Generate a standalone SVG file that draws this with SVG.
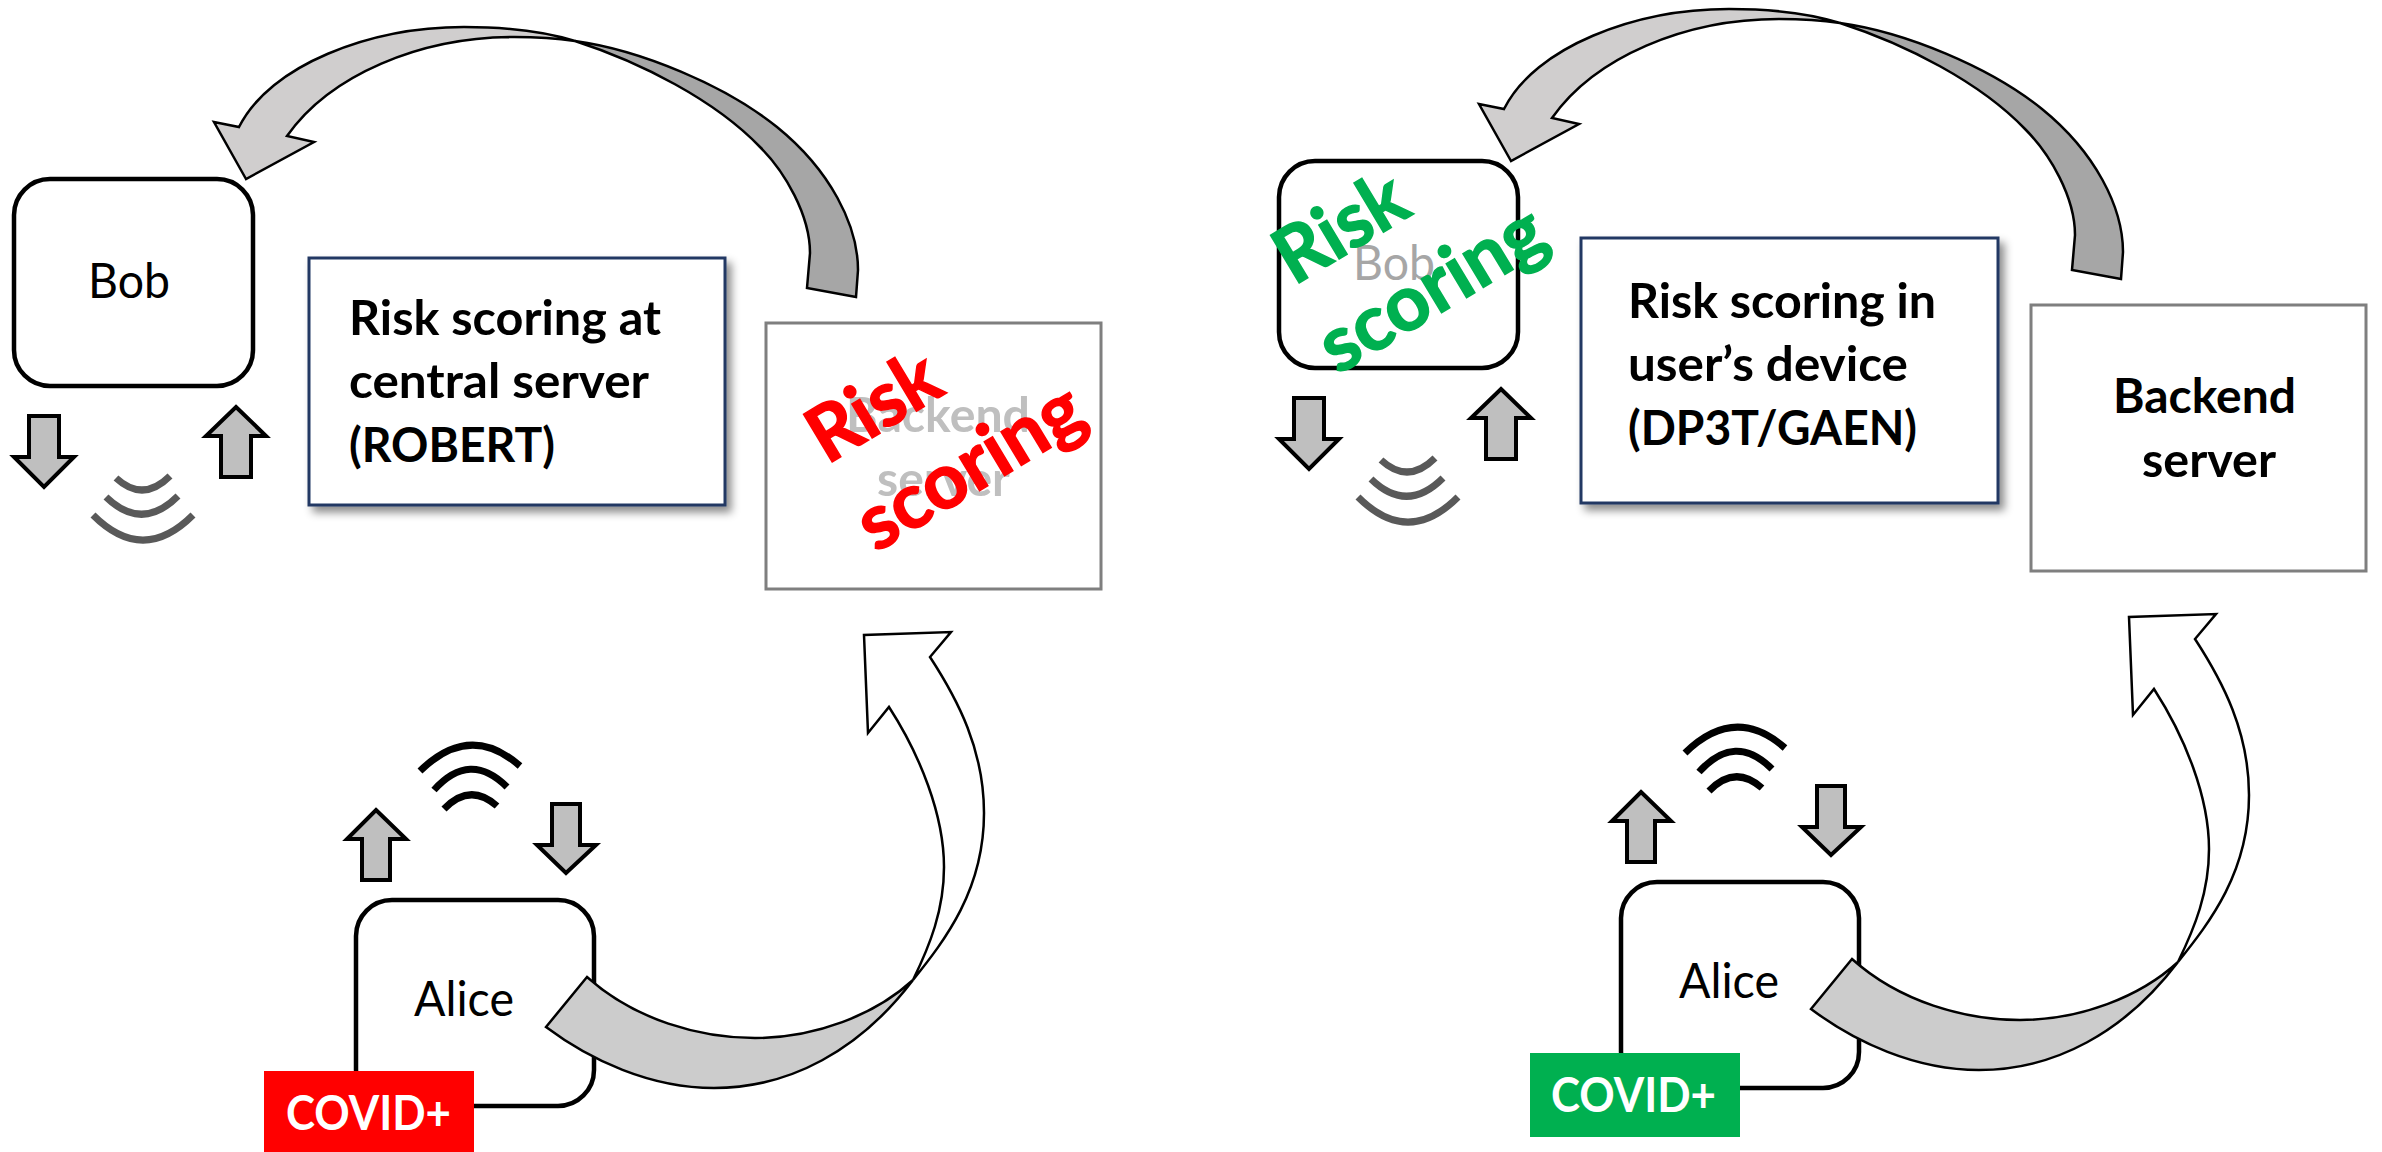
<svg xmlns="http://www.w3.org/2000/svg" width="2382" height="1152" viewBox="0 0 2382 1152">
<defs>
<filter id="sh" x="-5%" y="-5%" width="115%" height="115%"><feDropShadow dx="5" dy="6" stdDeviation="4" flood-color="#000" flood-opacity="0.45"/></filter>
</defs>
<style>
text{font-family:Lato,"Liberation Sans",sans-serif;font-size:48px;fill:#000}
.b{font-weight:700}
.dev{fill:#fff;stroke:#000;stroke-width:4.5}
.srv{fill:#fff;stroke:#7f7f7f;stroke-width:3}
.note{fill:#fff;stroke:#203864;stroke-width:3;filter:url(#sh)}
.sm{fill:#bfbfbf;stroke:#000;stroke-width:4}
.wg{fill:none;stroke:#595959;stroke-width:7}
.wk{fill:none;stroke:#000;stroke-width:7}
.cv{stroke:#000;stroke-width:2.5;stroke-linejoin:miter}
.rs{font-weight:700;font-size:77px;stroke-width:1.5}
</style>
<rect width="2382" height="1152" fill="#fff"/>

<g id="server-left"><rect class="srv" x="766" y="323" width="335" height="266"/>
<text class="b" x="846" y="432" textLength="184" lengthAdjust="spacingAndGlyphs" style="fill:#bfbfbf">Backend</text>
<text class="b" x="877" y="496" textLength="133" lengthAdjust="spacingAndGlyphs" style="fill:#bfbfbf">server</text></g>
<g id="bob-left"><rect class="dev" x="14" y="179" width="239" height="207" rx="36" ry="36"/>
<text x="88" y="298" textLength="82" lengthAdjust="spacingAndGlyphs">Bob</text></g>
<g id="alice-left"><rect class="dev" x="356" y="900" width="238" height="206" rx="36" ry="36"/>
<text x="414" y="1016" textLength="100" lengthAdjust="spacingAndGlyphs">Alice</text></g>
<g id="note-left"><rect class="note" x="309" y="258" width="416" height="247"/>
<text class="b" x="349" y="335" textLength="312" lengthAdjust="spacingAndGlyphs">Risk scoring at</text>
<text class="b" x="349" y="398" textLength="300" lengthAdjust="spacingAndGlyphs">central server</text>
<text class="b" x="349" y="462" textLength="206" lengthAdjust="spacingAndGlyphs">(ROBERT)</text></g>

<g id="server-right"><rect class="srv" x="2031" y="305" width="335" height="266"/>
<text class="b" x="2113" y="413" textLength="183" lengthAdjust="spacingAndGlyphs">Backend</text>
<text class="b" x="2142" y="477" textLength="134" lengthAdjust="spacingAndGlyphs">server</text></g>
<g id="bob-right"><rect class="dev" x="1279" y="161" width="239" height="207" rx="36" ry="36"/>
<text x="1353" y="280" textLength="82" lengthAdjust="spacingAndGlyphs" style="fill:#a6a6a6">Bob</text></g>
<g id="alice-right"><rect class="dev" x="1621" y="882" width="238" height="206" rx="36" ry="36"/>
<text x="1679" y="998" textLength="100" lengthAdjust="spacingAndGlyphs">Alice</text></g>
<g id="note-right"><rect class="note" x="1581" y="238" width="417" height="265"/>
<text class="b" x="1628" y="318" textLength="308" lengthAdjust="spacingAndGlyphs">Risk scoring in</text>
<text class="b" x="1628" y="381" textLength="280" lengthAdjust="spacingAndGlyphs">user’s device</text>
<text class="b" x="1628" y="445" textLength="289" lengthAdjust="spacingAndGlyphs">(DP3T/GAEN)</text></g>

<g id="connectors">
<g id="flow-left">
<path class="cv" fill="#a6a6a6" d="M575,41C640,50 725,85 777,127C830,170 858,225 858,270L856,297L807,288L810,253C810,215 785,172 760,147C715,100 640,62 575,41Z"/>
<path class="cv" fill="#d0cece" d="M246,179L214,122L239,127C270,65 370,27 464,27C500,27 540,30 575,41C555,38 535,37 514,37C420,37 330,75 287,136L314,142Z"/>
<path class="cv" fill="#fff" d="M913,980C945,940 984,890 984,813C984,750 958,700 930,657L951,632L864,635L868,733L889,707C920,755 944,815 944,867C944,910 930,945 913,980Z"/>
<path class="cv" fill="#cccccc" d="M546,1027L587,977C635,1020 700,1038 755,1038C815,1038 875,1015 913,980C860,1050 790,1088 714,1088C650,1088 590,1060 546,1027Z"/>
<path class="sm" d="M29,416H59V457H74L44,487L14,457H29Z"/>
<path class="sm" d="M236,407L266,436H251V477H221V436H206Z"/>
<path class="sm" d="M376,810L406,839H390V880H362V839H347Z"/>
<path class="sm" d="M552,804H580V845H596L566,873L537,845H552Z"/>
<path class="wg" d="M116,478Q143,503 170,476M106,497Q142,532 178,496M93,515Q143,565 193,515"/>
<path class="wk" d="M444,809Q470,782 497,806M434,790Q470,750 507,787M420,771Q470,722 520,766"/>
</g>
<g id="flow-right" transform="translate(1265,-18)">
<path class="cv" fill="#a6a6a6" d="M575,41C640,50 725,85 777,127C830,170 858,225 858,270L856,297L807,288L810,253C810,215 785,172 760,147C715,100 640,62 575,41Z"/>
<path class="cv" fill="#d0cece" d="M246,179L214,122L239,127C270,65 370,27 464,27C500,27 540,30 575,41C555,38 535,37 514,37C420,37 330,75 287,136L314,142Z"/>
<path class="cv" fill="#fff" d="M913,980C945,940 984,890 984,813C984,750 958,700 930,657L951,632L864,635L868,733L889,707C920,755 944,815 944,867C944,910 930,945 913,980Z"/>
<path class="cv" fill="#cccccc" d="M546,1027L587,977C635,1020 700,1038 755,1038C815,1038 875,1015 913,980C860,1050 790,1088 714,1088C650,1088 590,1060 546,1027Z"/>
<path class="sm" d="M29,416H59V457H74L44,487L14,457H29Z"/>
<path class="sm" d="M236,407L266,436H251V477H221V436H206Z"/>
<path class="sm" d="M376,810L406,839H390V880H362V839H347Z"/>
<path class="sm" d="M552,804H580V845H596L566,873L537,845H552Z"/>
<path class="wg" d="M116,478Q143,503 170,476M106,497Q142,532 178,496M93,515Q143,565 193,515"/>
<path class="wk" d="M444,809Q470,782 497,806M434,790Q470,750 507,787M420,771Q470,722 520,766"/>
</g>
</g>

<g id="badge-left"><rect x="264" y="1071" width="210" height="81" fill="#ff0000"/>
<text class="b" x="286" y="1130" textLength="165" lengthAdjust="spacingAndGlyphs" style="fill:#fff">COVID+</text></g>
<g id="badge-right"><rect x="1530" y="1053" width="210" height="84" fill="#00b050"/>
<text class="b" x="1551" y="1112" textLength="165" lengthAdjust="spacingAndGlyphs" style="fill:#fff">COVID+</text></g>
<g id="risk-left">
<text class="rs" transform="translate(827,465) rotate(-31)" textLength="140" lengthAdjust="spacingAndGlyphs" style="fill:#ff0000;stroke:#ff0000">Risk</text>
<text class="rs" transform="translate(876,553) rotate(-31)" textLength="250" lengthAdjust="spacingAndGlyphs" style="fill:#ff0000;stroke:#ff0000">scoring</text></g>
<g id="risk-right">
<text class="rs" transform="translate(1294,286) rotate(-31)" textLength="140" lengthAdjust="spacingAndGlyphs" style="fill:#00b050;stroke:#00b050">Risk</text>
<text class="rs" transform="translate(1338,375) rotate(-31)" textLength="250" lengthAdjust="spacingAndGlyphs" style="fill:#00b050;stroke:#00b050">scoring</text></g>
</svg>
